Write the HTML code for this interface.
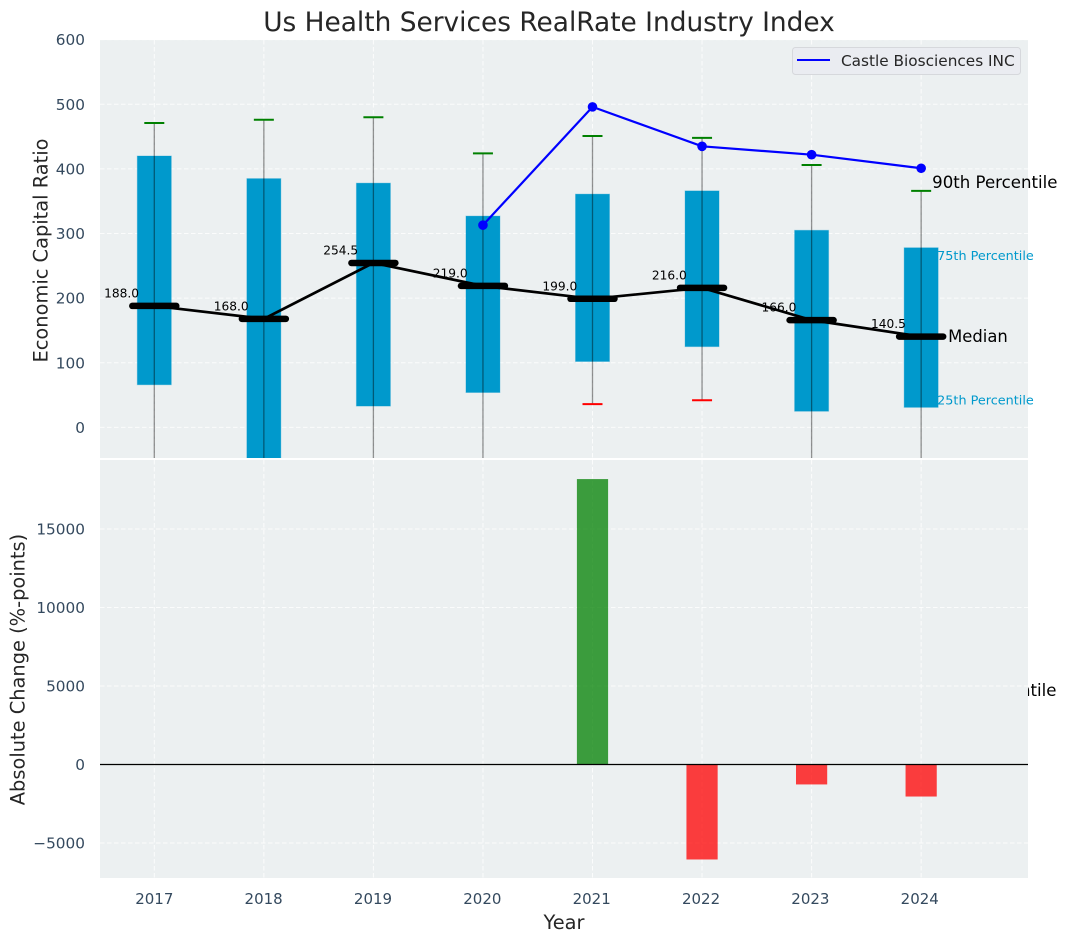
<!DOCTYPE html>
<html>
<head>
<meta charset="utf-8">
<title>Us Health Services RealRate Industry Index</title>
<style>
html,body{margin:0;padding:0;background:#fff;width:1067px;height:942px;overflow:hidden}
svg{display:block;font-family:"DejaVu Sans","Liberation Sans",sans-serif}
</style>
</head>
<body>
<svg id="chart" xmlns="http://www.w3.org/2000/svg" width="1067" height="942" viewBox="0 0 1067 942">
  <defs>
    <clipPath id="top-clip"><rect x="100" y="40" width="928" height="418"></rect></clipPath>
    <clipPath id="bottom-clip"><rect x="100" y="460" width="928" height="418"></rect></clipPath>
  </defs>
  <rect x="100" y="40" width="928" height="418" fill="#ecf0f1"></rect>
  <g id="top-grid"></g>
  <g id="top-marks" clip-path="url(#top-clip)"></g>
  <g id="median-marks"></g>
  <g id="percentile-labels"></g>
  <rect x="100" y="460" width="928" height="418" fill="#ecf0f1"></rect>
  <g id="bottom-grid"></g>
  <g id="bottom-marks" clip-path="url(#bottom-clip)"></g>
  <g id="tick-labels"></g>

  <text x="549" y="31" font-size="26.4" fill="#262626" text-anchor="middle">Us Health Services RealRate Industry Index</text>
  <text transform="translate(47.5,250.5) rotate(-90)" font-size="19.4" fill="#262626" text-anchor="middle">Economic Capital Ratio</text>
  <text transform="translate(24.5,669.5) rotate(-90)" font-size="19.4" fill="#262626" text-anchor="middle">Absolute Change (%-points)</text>
  <text x="564" y="929" font-size="19.4" fill="#262626" text-anchor="middle">Year</text>

  <g>
    <rect x="792.5" y="47.5" width="228" height="27" rx="3" fill="#eaecf1" stroke="#d6d8dc" stroke-width="1"></rect>
    <line x1="797" y1="60" x2="830" y2="60" stroke="#0000ff" stroke-width="2"></line>
    <text x="841" y="66" font-size="15.3" fill="#262626">Castle Biosciences INC</text>
  </g>
</svg>
<script>
const years = [2017, 2018, 2019, 2020, 2021, 2022, 2023, 2024];
const box25 = [66, -60, 33, 54, 102, 125, 25, 31];
const box75 = [420, 385, 378, 327, 361, 366, 305, 278];
const whiskerHigh = [471, 476, 480, 424, 451, 448, 406, 366];
const whiskerLow = [-150, -300, -120, -180, 36, 42, -140, -400];
const medians = [188.0, 168.0, 254.5, 219.0, 199.0, 216.0, 166.0, 140.5];
const companyValues = [null, null, null, 313, 496, 435, 422, 401];
const absoluteChange = [null, null, null, null, 18180, -6050, -1270, -2040];
const topTicks = [0, 100, 200, 300, 400, 500, 600];
const bottomTicks = [-5000, 0, 5000, 10000, 15000];

const NS = 'http://www.w3.org/2000/svg';
const xScale = function (year) { return 154.3 + (year - 2017) * 109.55; };
const yTop = function (v) { return 427.4 - v * 0.6462; };
const yBottom = function (v) { return 764.5 - v * 0.0157; };

function make(parent, tag, attrs, content) {
  const el = document.createElementNS(NS, tag);
  Object.keys(attrs).forEach(function (k) { el.setAttribute(k, attrs[k]); });
  if (content !== undefined) { el.textContent = content; }
  parent.appendChild(el);
  return el;
}
function tickText(v) { return v < 0 ? '\u2212' + Math.abs(v) : String(v); }

const topGrid = document.getElementById('top-grid');
const bottomGrid = document.getElementById('bottom-grid');
const topMarks = document.getElementById('top-marks');
const medianMarks = document.getElementById('median-marks');
const bottomMarks = document.getElementById('bottom-marks');
const tickLabels = document.getElementById('tick-labels');
const percentileLabels = document.getElementById('percentile-labels');
const gridStyle = { stroke: '#ffffff', 'stroke-width': 1, 'stroke-dasharray': '4.5 2.5', 'stroke-opacity': 0.8 };

topTicks.forEach(function (t) {
  const line = make(topGrid, 'line', Object.assign({ x1: 100, x2: 1028, y1: yTop(t), y2: yTop(t) }, gridStyle));
  
  
  const label = make(tickLabels, 'text', { x: 85, y: yTop(t) + 5.5, 'font-size': 15.3, fill: '#34495e', 'text-anchor': 'end' }, tickText(t));
  
  
});
bottomTicks.forEach(function (t) {
  const line = make(bottomGrid, 'line', Object.assign({ x1: 100, x2: 1028, y1: yBottom(t), y2: yBottom(t) }, gridStyle));
  
  
  const label = make(tickLabels, 'text', { x: 85, y: yBottom(t) + 5.5, 'font-size': 15.3, fill: '#34495e', 'text-anchor': 'end' }, tickText(t));
  
  
});

years.forEach(function (year, i) {
  const x = xScale(year);
  const vTop = make(topGrid, 'line', Object.assign({ x1: x, x2: x, y1: 40, y2: 458 }, gridStyle));
  
  
  const vBottom = make(bottomGrid, 'line', Object.assign({ x1: x, x2: x, y1: 460, y2: 878 }, gridStyle));
  
  
  const xLabel = make(tickLabels, 'text', { x: x - 0.2 * i, y: 904, 'font-size': 15, fill: '#34495e', 'text-anchor': 'middle' }, String(year));
  
  

  const box = make(topMarks, 'rect', {
    x: x - 17, width: 34,
    y: yTop(box75[i]), height: yTop(box25[i]) - yTop(box75[i]),
    fill: '#0099cc', stroke: '#0099cc', 'stroke-opacity': 0.3, 'stroke-width': 1
  });
  
  

  const whisker = make(topMarks, 'line', {
    x1: x, x2: x, y1: yTop(whiskerHigh[i]), y2: yTop(whiskerLow[i]),
    stroke: '#000000', 'stroke-opacity': 0.42, 'stroke-width': 1.3
  });
  
  

  const capHigh = make(topMarks, 'line', {
    x1: x - 10, x2: x + 10, y1: yTop(whiskerHigh[i]), y2: yTop(whiskerHigh[i]),
    stroke: '#008000', 'stroke-width': 2
  });
  
  

  const capLow = make(topMarks, 'line', {
    x1: x - 10, x2: x + 10, y1: yTop(whiskerLow[i]), y2: yTop(whiskerLow[i]),
    stroke: '#ff0000', 'stroke-width': 2
  });
  
  

  if (absoluteChange[i] !== null) {
    const v = absoluteChange[i];
    const bar = make(bottomMarks, 'rect', {
      x: x - 15.6, width: 31.2,
      y: Math.min(yBottom(v), yBottom(0)), height: Math.abs(yBottom(v) - yBottom(0)),
      fill: v >= 0 ? '#008000' : '#ff0000', 'fill-opacity': 0.75
    });
    
    
  }
});

const zeroLine = make(bottomMarks, 'line', { x1: 100, x2: 1028, y1: yBottom(0), y2: yBottom(0), stroke: '#000000', 'stroke-width': 1.3 });



const medianPoints = years.map(function (year, i) { return xScale(year) + ',' + yTop(medians[i]); }).join(' ');
const medianLine = make(medianMarks, 'polyline', { points: medianPoints, fill: 'none', stroke: '#000000', 'stroke-width': 2.7 });



years.forEach(function (year, i) {
  const x = xScale(year);
  const y = yTop(medians[i]);
  const bar = make(medianMarks, 'line', {
    x1: x - 22, x2: x + 22, y1: y, y2: y,
    stroke: '#000000', 'stroke-width': 6.5, 'stroke-linecap': 'round'
  });
  
  
  const label = make(medianMarks, 'text', {
    x: x - 32.7, y: y - 8.5, 'font-size': 12.2, fill: '#000000', 'text-anchor': 'middle'
  }, medians[i].toFixed(1));
  
  
});

const companyYears = years.filter(function (y, i) { return companyValues[i] !== null; });
const companyPoints = companyYears.map(function (year) {
  return xScale(year) + ',' + yTop(companyValues[years.indexOf(year)]);
}).join(' ');
const companyLine = make(topMarks, 'polyline', { points: companyPoints, fill: 'none', stroke: '#0000ff', 'stroke-width': 2.2 });


companyYears.forEach(function (year) {
  const dot = make(topMarks, 'circle', { cx: xScale(year), cy: yTop(companyValues[years.indexOf(year)]), r: 4.8, fill: '#0000ff' });
  
  
});

const last = years.length - 1;
const lastX = xScale(years[last]);
const label90 = make(percentileLabels, 'text', { x: lastX + 11, y: yTop(whiskerHigh[last]) - 3, 'font-size': 16.6, fill: '#000000' }, '90th Percentile');


const label75 = make(percentileLabels, 'text', { x: lastX + 16, y: yTop(box75[last]) + 12, 'font-size': 12.8, fill: '#0099cc' }, '75th Percentile');


const labelMedian = make(percentileLabels, 'text', { x: lastX + 27, y: yTop(medians[last]) + 5.5, 'font-size': 16.4, fill: '#000000' }, 'Median');


const label25 = make(percentileLabels, 'text', { x: lastX + 16, y: yTop(box25[last]) - 3, 'font-size': 12.8, fill: '#0099cc' }, '25th Percentile');


const label10 = make(percentileLabels, 'text', { x: lastX + 10, y: yTop(whiskerLow[last]) + 10, 'font-size': 16.6, fill: '#000000' }, '10th Percentile');


</script>
</body>
</html>
